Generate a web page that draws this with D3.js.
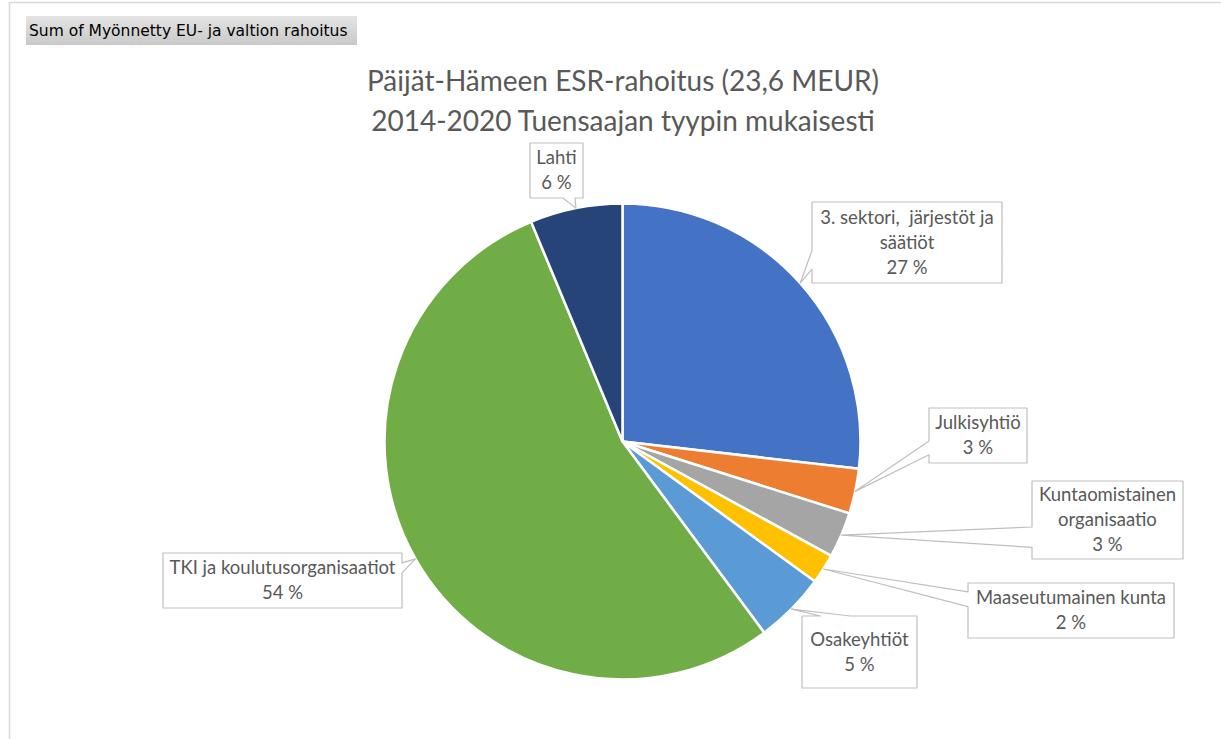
<!DOCTYPE html>
<html>
<head>
<meta charset="utf-8">
<script src="https://cdn.jsdelivr.net/npm/d3@7"></script>
<style>
body { margin: 0; background: #fff; }
text { white-space: pre; }
</style>
</head>
<body>
<div id="chart"></div>
<script>
var width = 1221;
var height = 739;

// data (MEUR, total ~23,6)
const categories = [
	"3. sektori,  järjestöt ja säätiöt",
	"Julkisyhtiö",
	"Kuntaomistainen organisaatio",
	"Maaseutumainen kunta",
	"Osakeyhtiöt",
	"TKI ja koulutusorganisaatiot",
	"Lahti",
];
const labelLines = [
	["3. sektori,  järjestöt ja", "säätiöt"],
	["Julkisyhtiö"],
	["Kuntaomistainen", "organisaatio"],
	["Maaseutumainen kunta"],
	["Osakeyhtiöt"],
	["TKI ja koulutusorganisaatiot"],
	["Lahti"],
];
const values = [6.33, 0.72, 0.73, 0.48, 1.14, 12.71, 1.48];
const colors = ["#4472C4", "#ED7D31", "#A5A5A5", "#FFC000", "#5B9BD5", "#70AD47", "#264478"];
const titleLines = ["Päijät-Hämeen ESR-rahoitus (23,6 MEUR)", "2014-2020 Tuensaajan tyypin mukaisesti"];
const fieldButton = "Sum of Myönnetty EU- ja valtion rahoitus";

// callout boxes: x, y, w, h, side of the tail, tail base (fractions of that side)
const boxes = [
	{ x: 812, y: 202, w: 190, h: 81, side: "left", f1: 0.6, f2: 0.83 },
	{ x: 929, y: 408, w: 98, h: 55, side: "left", f1: 0.6, f2: 0.85 },
	{ x: 1032, y: 481, w: 151, h: 78, side: "left", f1: 0.59, f2: 0.85 },
	{ x: 968, y: 583, w: 206, h: 55, side: "left", f1: 0.16, f2: 0.43 },
	{ x: 802, y: 616, w: 115, h: 72, side: "top", f1: 0.16, f2: 0.42 },
	{ x: 163, y: 553, w: 239, h: 55, side: "right", f1: 0.18, f2: 0.36 },
	{ x: 530, y: 143, w: 53, h: 55, side: "bottom", f1: 0.62, f2: 0.85 },
];

var cx = 622.5, cy = 441.5, R = 238;

var svg = d3
	.select("#chart")
	.append("svg")
	.attr("width", width)
	.attr("height", height);

// chart area border (top + left only visible)
svg.append("path")
	.attr("d", "M9.5,739 V2.5 H1221")
	.attr("fill", "none")
	.attr("stroke", "#D9D9D9")
	.attr("stroke-width", 1.5);

// pivot field button
var grad = svg.append("defs").append("linearGradient")
	.attr("id", "btn").attr("x1", 0).attr("y1", 0).attr("x2", 0).attr("y2", 1);
grad.append("stop").attr("offset", "0%").attr("stop-color", "#E4E4E4");
grad.append("stop").attr("offset", "100%").attr("stop-color", "#C9C9C9");
svg.append("rect")
	.attr("x", 26).attr("y", 16).attr("width", 331).attr("height", 29)
	.attr("fill", "url(#btn)");
svg.append("text")
	.attr("x", 29).attr("y", 36)
	.attr("font-family", "DejaVu Sans")
	.attr("font-size", 15.5)
	.attr("fill", "#000")
	.text(fieldButton);

// title
svg.selectAll("text.title")
	.data(titleLines)
	.join("text")
	.attr("class", "title")
	.attr("x", 623)
	.attr("y", (d, i) => 91 + i * 40)
	.attr("text-anchor", "middle")
	.attr("font-family", "Lato")
	.attr("font-size", 28)
	.attr("fill", "#595959")
	.text((d) => d);

// pie
var total = d3.sum(values);
var pie = d3.pie().sort(null).value((d) => d);
var arcs = pie(values);
var arc = d3.arc().innerRadius(0).outerRadius(R);

var g = svg.append("g").attr("transform", "translate(" + cx + "," + cy + ")");
g.selectAll("path")
	.data(arcs)
	.join("path")
	.attr("d", arc)
	.attr("fill", (d, i) => colors[i])
	.attr("stroke", "#fff")
	.attr("stroke-width", 2.5)
	.attr("stroke-linejoin", "round");

// callouts
function tip(d) {
	var a = (d.startAngle + d.endAngle) / 2;
	return [cx + R * Math.sin(a), cy - R * Math.cos(a)];
}

function calloutPath(b, p) {
	var x = b.x, y = b.y, w = b.w, h = b.h;
	if (b.side == "left")
		return `M${x},${y}H${x + w}V${y + h}H${x}V${y + h * b.f2}L${p[0]},${p[1]}L${x},${y + h * b.f1}Z`;
	if (b.side == "right")
		return `M${x},${y}H${x + w}V${y + h * b.f1}L${p[0]},${p[1]}L${x + w},${y + h * b.f2}V${y + h}H${x}Z`;
	if (b.side == "top")
		return `M${x},${y}H${x + w * b.f1}L${p[0]},${p[1]}L${x + w * b.f2},${y}H${x + w}V${y + h}H${x}Z`;
	return `M${x},${y}H${x + w}V${y + h}H${x + w * b.f2}L${p[0]},${p[1]}L${x + w * b.f1},${y + h}H${x}Z`;
}

var fmt = (v) => d3.format(".0f")((v / total) * 100) + " %";

var labels = svg.selectAll("g.label")
	.data(arcs)
	.join("g")
	.attr("class", "label");

labels.append("path")
	.attr("d", (d, i) => calloutPath(boxes[i], tip(d)))
	.attr("fill", "#fff")
	.attr("stroke", "#BFBFBF")
	.attr("stroke-width", 1.2)
	.attr("stroke-linejoin", "round");

labels.each(function (d, i) {
	var b = boxes[i];
	var lines = labelLines[i].concat([fmt(d.value)]);
	var lh = 25;
	d3.select(this).selectAll("text")
		.data(lines)
		.join("text")
		.attr("x", b.x + b.w / 2)
		.attr("y", (t, j) => b.y + b.h / 2 + (j - (lines.length - 1) / 2) * lh)
		.attr("dy", "0.35em")
		.attr("text-anchor", "middle")
		.attr("font-family", "Lato")
		.attr("font-size", 18.5)
		.attr("fill", "#595959")
		.text((t) => t);
});
</script>
</body>
</html>
